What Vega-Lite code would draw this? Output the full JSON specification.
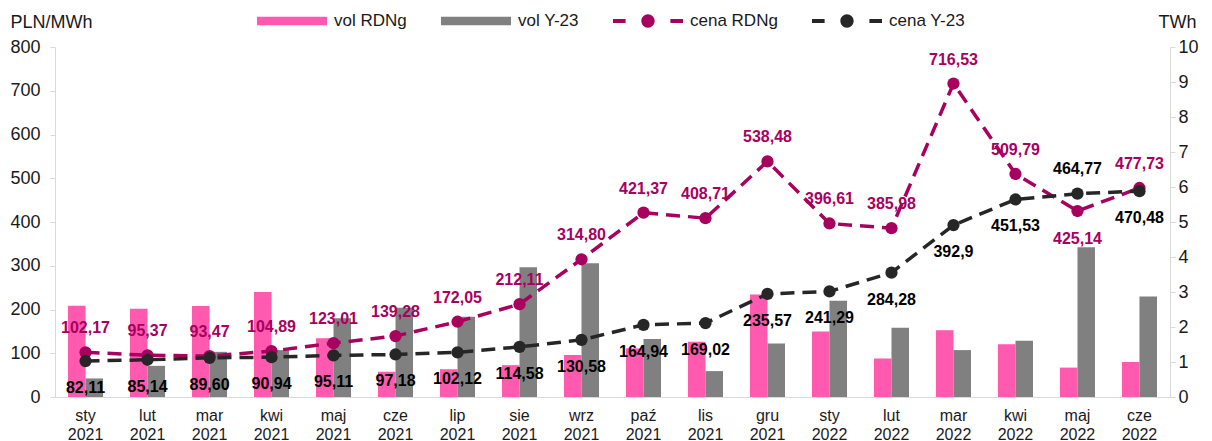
{
  "$schema": "https://vega.github.io/schema/vega-lite/v6.json",
  "width": 1115,
  "height": 350,
  "autosize": {"type": "none"},
  "padding": {"left": 55, "top": 47, "right": 42, "bottom": 44},
  "background": "white",
  "config": {
    "font": "Liberation Sans",
    "view": {"stroke": null},
    "axis": {"grid": false, "labelColor": "#1a1a1a", "titleColor": "#1a1a1a", "domainColor": "#d9d9d9", "tickColor": "#d9d9d9"}
  },
  "datasets": {
    "vol": [
      {"m": "sty 2021", "s": "vol RDNg", "v": 2.61}, {"m": "sty 2021", "s": "vol Y-23", "v": 0.53},
      {"m": "lut 2021", "s": "vol RDNg", "v": 2.52}, {"m": "lut 2021", "s": "vol Y-23", "v": 0.89},
      {"m": "mar 2021", "s": "vol RDNg", "v": 2.60}, {"m": "mar 2021", "s": "vol Y-23", "v": 1.29},
      {"m": "kwi 2021", "s": "vol RDNg", "v": 3.00}, {"m": "kwi 2021", "s": "vol Y-23", "v": 1.34},
      {"m": "maj 2021", "s": "vol RDNg", "v": 1.68}, {"m": "maj 2021", "s": "vol Y-23", "v": 2.25},
      {"m": "cze 2021", "s": "vol RDNg", "v": 0.72}, {"m": "cze 2021", "s": "vol Y-23", "v": 2.55},
      {"m": "lip 2021", "s": "vol RDNg", "v": 0.79}, {"m": "lip 2021", "s": "vol Y-23", "v": 2.29},
      {"m": "sie 2021", "s": "vol RDNg", "v": 0.91}, {"m": "sie 2021", "s": "vol Y-23", "v": 3.71},
      {"m": "wrz 2021", "s": "vol RDNg", "v": 1.20}, {"m": "wrz 2021", "s": "vol Y-23", "v": 3.82},
      {"m": "paź 2021", "s": "vol RDNg", "v": 1.39}, {"m": "paź 2021", "s": "vol Y-23", "v": 1.66},
      {"m": "lis 2021", "s": "vol RDNg", "v": 1.58}, {"m": "lis 2021", "s": "vol Y-23", "v": 0.74},
      {"m": "gru 2021", "s": "vol RDNg", "v": 2.93}, {"m": "gru 2021", "s": "vol Y-23", "v": 1.53},
      {"m": "sty 2022", "s": "vol RDNg", "v": 1.87}, {"m": "sty 2022", "s": "vol Y-23", "v": 2.75},
      {"m": "lut 2022", "s": "vol RDNg", "v": 1.10}, {"m": "lut 2022", "s": "vol Y-23", "v": 1.98},
      {"m": "mar 2022", "s": "vol RDNg", "v": 1.91}, {"m": "mar 2022", "s": "vol Y-23", "v": 1.34},
      {"m": "kwi 2022", "s": "vol RDNg", "v": 1.51}, {"m": "kwi 2022", "s": "vol Y-23", "v": 1.61},
      {"m": "maj 2022", "s": "vol RDNg", "v": 0.84}, {"m": "maj 2022", "s": "vol Y-23", "v": 4.28},
      {"m": "cze 2022", "s": "vol RDNg", "v": 1.00}, {"m": "cze 2022", "s": "vol Y-23", "v": 2.87}
    ],
    "cena": [
      {"m": "sty 2021", "s": "cena RDNg", "c": 102.17, "t": "102,17"}, {"m": "sty 2021", "s": "cena Y-23", "c": 82.11, "t": "82,11"},
      {"m": "lut 2021", "s": "cena RDNg", "c": 95.37, "t": "95,37"}, {"m": "lut 2021", "s": "cena Y-23", "c": 85.14, "t": "85,14"},
      {"m": "mar 2021", "s": "cena RDNg", "c": 93.47, "t": "93,47"}, {"m": "mar 2021", "s": "cena Y-23", "c": 89.60, "t": "89,60"},
      {"m": "kwi 2021", "s": "cena RDNg", "c": 104.89, "t": "104,89"}, {"m": "kwi 2021", "s": "cena Y-23", "c": 90.94, "t": "90,94"},
      {"m": "maj 2021", "s": "cena RDNg", "c": 123.01, "t": "123,01"}, {"m": "maj 2021", "s": "cena Y-23", "c": 95.11, "t": "95,11"},
      {"m": "cze 2021", "s": "cena RDNg", "c": 139.28, "t": "139,28"}, {"m": "cze 2021", "s": "cena Y-23", "c": 97.18, "t": "97,18"},
      {"m": "lip 2021", "s": "cena RDNg", "c": 172.05, "t": "172,05"}, {"m": "lip 2021", "s": "cena Y-23", "c": 102.12, "t": "102,12"},
      {"m": "sie 2021", "s": "cena RDNg", "c": 212.11, "t": "212,11"}, {"m": "sie 2021", "s": "cena Y-23", "c": 114.58, "t": "114,58"},
      {"m": "wrz 2021", "s": "cena RDNg", "c": 314.80, "t": "314,80"}, {"m": "wrz 2021", "s": "cena Y-23", "c": 130.58, "t": "130,58"},
      {"m": "paź 2021", "s": "cena RDNg", "c": 421.37, "t": "421,37"}, {"m": "paź 2021", "s": "cena Y-23", "c": 164.94, "t": "164,94"},
      {"m": "lis 2021", "s": "cena RDNg", "c": 408.71, "t": "408,71"}, {"m": "lis 2021", "s": "cena Y-23", "c": 169.02, "t": "169,02"},
      {"m": "gru 2021", "s": "cena RDNg", "c": 538.48, "t": "538,48"}, {"m": "gru 2021", "s": "cena Y-23", "c": 235.57, "t": "235,57"},
      {"m": "sty 2022", "s": "cena RDNg", "c": 396.61, "t": "396,61"}, {"m": "sty 2022", "s": "cena Y-23", "c": 241.29, "t": "241,29"},
      {"m": "lut 2022", "s": "cena RDNg", "c": 385.98, "t": "385,98"}, {"m": "lut 2022", "s": "cena Y-23", "c": 284.28, "t": "284,28"},
      {"m": "mar 2022", "s": "cena RDNg", "c": 716.53, "t": "716,53"}, {"m": "mar 2022", "s": "cena Y-23", "c": 392.9, "t": "392,9"},
      {"m": "kwi 2022", "s": "cena RDNg", "c": 509.79, "t": "509,79"}, {"m": "kwi 2022", "s": "cena Y-23", "c": 451.53, "t": "451,53"},
      {"m": "maj 2022", "s": "cena RDNg", "c": 425.14, "t": "425,14"}, {"m": "maj 2022", "s": "cena Y-23", "c": 464.77, "t": "464,77"},
      {"m": "cze 2022", "s": "cena RDNg", "c": 477.73, "t": "477,73"}, {"m": "cze 2022", "s": "cena Y-23", "c": 470.48, "t": "470,48"}
    ]
  },
  "encoding": {
    "x": {
      "field": "m", "type": "nominal",
      "scale": {
        "domain": ["sty 2021", "lut 2021", "mar 2021", "kwi 2021", "maj 2021", "cze 2021", "lip 2021", "sie 2021", "wrz 2021", "paź 2021", "lis 2021", "gru 2021", "sty 2022", "lut 2022", "mar 2022", "kwi 2022", "maj 2022", "cze 2022"],
        "paddingInner": 0.435, "paddingOuter": 0.21
      },
      "axis": {
        "title": null, "labelAngle": 0, "ticks": false, "labelExpr": "split(datum.label, ' ')",
        "labelFontSize": 16, "labelLineHeight": 19, "labelPadding": 10, "labelBaseline": "top", "domainColor": "#d9d9d9"
      }
    }
  },
  "layer": [
    {
      "data": {"name": "vol"},
      "mark": {"type": "bar"},
      "encoding": {
        "xOffset": {"field": "s", "type": "nominal", "scale": {"domain": ["vol RDNg", "vol Y-23"]}},
        "y": {
          "field": "v", "type": "quantitative",
          "scale": {"domain": [0, 10], "nice": false},
          "axis": {
            "orient": "right", "values": [0, 1, 2, 3, 4, 5, 6, 7, 8, 9, 10],
            "title": "TWh", "titleAngle": 0, "titleAlign": "left", "titleBaseline": "middle",
            "titleX": -12, "titleY": -25, "titleFontSize": 18, "titleFontWeight": "normal",
            "labelFontSize": 18, "tickSize": 5, "labelPadding": 3
          }
        },
        "color": {
          "field": "s", "type": "nominal",
          "scale": {
            "domain": ["vol RDNg", "vol Y-23", "cena RDNg", "cena Y-23"],
            "range": ["#FF5AAF", "#808080", "#A8005F", "#262626"]
          },
          "legend": {
            "orient": "none", "direction": "horizontal", "columns": 4,
            "legendX": 202, "legendY": -61, "title": null, "padding": 0,
            "symbolSize": 4900, "labelOffset": 7, "columnPadding": 34,
            "labelFontSize": 17, "labelColor": "#1a1a1a",
            "encode": {
              "symbols": {
                "update": {
                  "shape": {"signal": "indexof(datum.value, 'vol') == 0 ? 'M-1,-0.12H1V0.12H-1Z' : 'M-1,-0.06H-0.64V0.06H-1Z M-0.19,0A0.19,0.19 0 1,0 0.19,0A0.19,0.19 0 1,0 -0.19,0Z M0.64,-0.06H1V0.06H0.64Z'"},
                  "fill": {"scale": "color", "field": "value"},
                  "stroke": {"value": "transparent"},
                  "strokeWidth": {"value": 0},
                  "opacity": {"value": 1},
                  "size": {"value": 4900}
                }
              }
            }
          }
        }
      }
    },
    {
      "data": {"name": "cena"},
      "encoding": {
        "y": {
          "field": "c", "type": "quantitative",
          "scale": {"domain": [0, 800], "nice": false},
          "axis": {
            "orient": "left", "values": [0, 100, 200, 300, 400, 500, 600, 700, 800],
            "title": "PLN/MWh", "titleAngle": 0, "titleAlign": "left", "titleBaseline": "middle",
            "titleX": -45, "titleY": -25, "titleFontSize": 18, "titleFontWeight": "normal",
            "labelFontSize": 18, "tickSize": 5, "labelPadding": 10
          }
        }
      },
      "layer": [
        {
          "mark": {"type": "line", "strokeDash": [14, 8], "strokeWidth": 3.5},
          "encoding": {"color": {"field": "s", "type": "nominal"}}
        },
        {
          "mark": {"type": "circle", "size": 150, "opacity": 1},
          "encoding": {"color": {"field": "s", "type": "nominal"}}
        },
        {
          "transform": [{"filter": "datum.s == 'cena RDNg' && datum.m != 'maj 2022'"}],
          "mark": {"type": "text", "dy": -24, "fontSize": 16, "fontWeight": "bold", "color": "#A8005F"},
          "encoding": {"text": {"field": "t"}}
        },
        {
          "transform": [{"filter": "datum.s == 'cena RDNg' && datum.m == 'maj 2022'"}],
          "mark": {"type": "text", "dy": 28, "fontSize": 16, "fontWeight": "bold", "color": "#A8005F"},
          "encoding": {"text": {"field": "t"}}
        },
        {
          "transform": [{"filter": "datum.s == 'cena Y-23' && datum.m != 'maj 2022'"}],
          "mark": {"type": "text", "dy": 27, "fontSize": 16, "fontWeight": "bold", "color": "#000000"},
          "encoding": {"text": {"field": "t"}}
        },
        {
          "transform": [{"filter": "datum.s == 'cena Y-23' && datum.m == 'maj 2022'"}],
          "mark": {"type": "text", "dy": -25, "fontSize": 16, "fontWeight": "bold", "color": "#000000"},
          "encoding": {"text": {"field": "t"}}
        }
      ]
    }
  ],
  "resolve": {"scale": {"y": "independent"}}
}
